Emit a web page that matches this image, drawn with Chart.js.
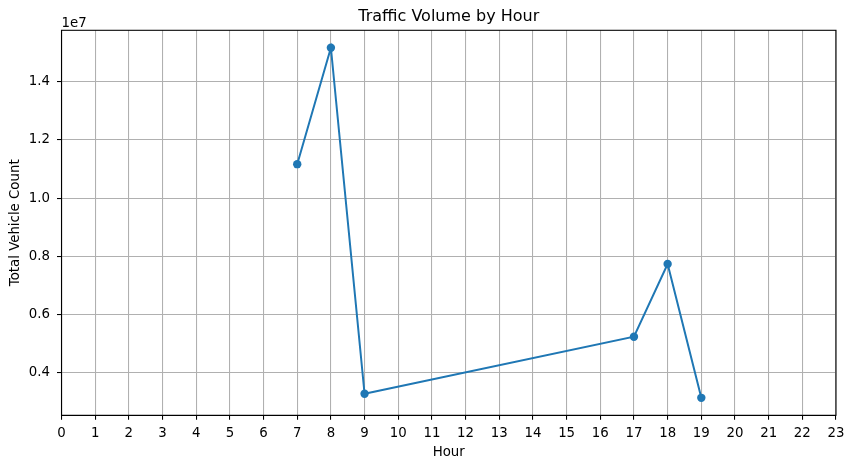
<!DOCTYPE html>
<html>
<head>
<meta charset="utf-8">
<script src="https://cdn.jsdelivr.net/npm/chart.js@4.4.1/dist/chart.umd.min.js"></script>
<style>
html,body{margin:0;padding:0;background:#fff;}
#wrap{width:855px;height:468px;position:relative;}
canvas{display:block;}
</style>
</head>
<body>
<div id="wrap"><canvas id="c" width="855" height="468"></canvas></div>
<script>
const hours = [7, 8, 9, 17, 18, 19];
const vehicleCounts = [11170000, 15170000, 3280000, 5240000, 7740000, 3140000];
const yTickValues = [4000000, 6000000, 8000000, 10000000, 12000000, 14000000];
const xMin = 0, xMax = 23;
const yMin = 2540000, yMax = 15770000;

const FONT = 'DejaVu Sans';
const GRID = '#b0b0b0';
const LINE = '#1f77b4';

const framePlugin = {
  id: 'frame',
  afterDraw(chart) {
    const {ctx, chartArea: a} = chart;
    ctx.save();
    ctx.strokeStyle = '#000';
    ctx.lineWidth = 1.07;
    ctx.strokeRect(a.left, a.top, a.right - a.left, a.bottom - a.top);
    ctx.fillStyle = '#000';
    ctx.font = '13.33px "' + FONT + '"';
    ctx.textAlign = 'left';
    ctx.textBaseline = 'alphabetic';
    ctx.fillText('1e7', a.left, a.top - 3.8);
    ctx.restore();
  }
};

new Chart(document.getElementById('c'), {
  type: 'line',
  data: {
    datasets: [{
      data: hours.map((h, i) => ({x: h, y: vehicleCounts[i]})),
      borderColor: LINE,
      backgroundColor: LINE,
      borderWidth: 2,
      pointRadius: 4.2,
      pointHoverRadius: 4.2,
      pointBorderWidth: 0,
      tension: 0,
      fill: false
    }]
  },
  options: {
    responsive: false,
    animation: false,
    devicePixelRatio: 1,
    layout: {padding: {left: 0, right: 19, top: 0, bottom: 0}},
    plugins: {
      legend: {display: false},
      tooltip: {enabled: false},
      title: {
        display: true,
        text: 'Traffic Volume by Hour',
        fullSize: false,
        color: '#000',
        font: {family: FONT, size: 16, weight: 'normal', lineHeight: 1.2},
        padding: {top: 7.5, bottom: 3.6}
      }
    },
    scales: {
      x: {
        type: 'linear',
        min: xMin,
        max: xMax,
        afterFit(scale) { scale.height = 52.7; },
        afterBuildTicks(scale) {
          const t = [];
          for (let v = xMin; v <= xMax; v++) t.push({value: v});
          scale.ticks = t;
        },
        ticks: {
          color: '#000',
          font: {family: FONT, size: 13.33},
          padding: 5.5,
          maxRotation: 0,
          autoSkip: false,
          callback: v => String(v)
        },
        grid: {
          color: GRID,
          lineWidth: 1.07,
          tickColor: '#000',
          tickWidth: 1.07,
          tickLength: 4.5,
          drawTicks: true
        },
        border: {display: true, color: '#000', width: 1.07},
        title: {
          display: true,
          text: 'Hour',
          color: '#000',
          font: {family: FONT, size: 13.33, lineHeight: 1.2},
          padding: {top: 0, bottom: 7.3}
        }
      },
      y: {
        type: 'linear',
        min: yMin,
        max: yMax,
        afterFit(scale) { scale.width = 61.5; },
        afterBuildTicks(scale) {
          scale.ticks = yTickValues.map(v => ({value: v}));
        },
        ticks: {
          color: '#000',
          font: {family: FONT, size: 13.33},
          padding: 7,
          callback: v => (v / 1e7).toFixed(1)
        },
        grid: {
          color: GRID,
          lineWidth: 1.07,
          tickColor: '#000',
          tickWidth: 1.07,
          tickLength: 4.5,
          drawTicks: true
        },
        border: {display: true, color: '#000', width: 1.07},
        title: {
          display: true,
          text: 'Total Vehicle Count',
          color: '#000',
          font: {family: FONT, size: 13.33, lineHeight: 1.2},
          padding: {top: 8, bottom: 0}
        }
      }
    }
  },
  plugins: [framePlugin]
});
</script>
</body>
</html>
